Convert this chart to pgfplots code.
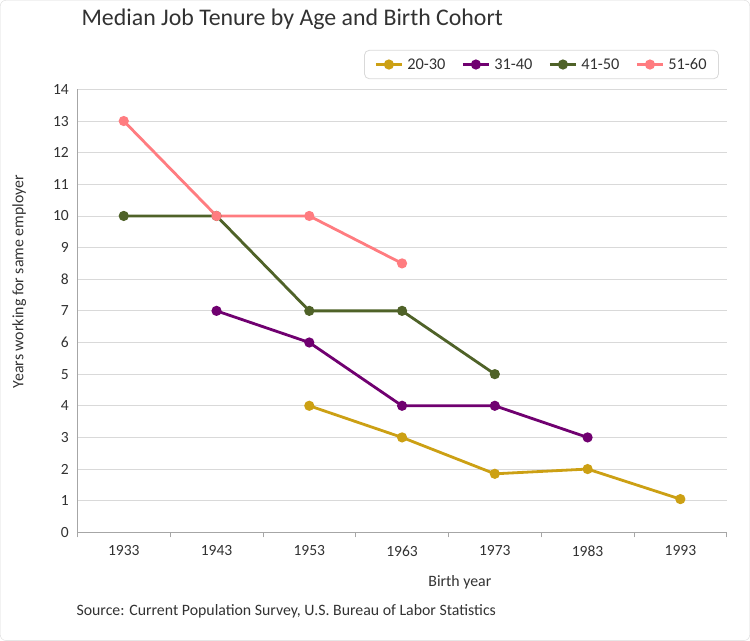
\documentclass[border=0pt]{standalone}
\usepackage{pgfplots}
\pgfplotsset{compat=1.18}
\usepackage{fontspec}
\setmainfont{Carlito}
\definecolor{cgold}{RGB}{204,160,20}
\definecolor{cpurple}{RGB}{112,0,112}
\definecolor{cgreen}{RGB}{79,98,40}
\definecolor{cpink}{RGB}{255,124,128}
\definecolor{gridc}{RGB}{217,217,217}
\definecolor{axc}{RGB}{166,166,166}
\definecolor{txt}{RGB}{50,50,50}

\begin{document}
\begin{tikzpicture}[x=1pt,y=1pt]
  \draw[gray!30, rounded corners=6pt] (1,1) rectangle (749,640);
  \node[anchor=west, inner sep=0pt, text=txt, font=\fontsize{23.8}{28}\selectfont] at (82,621) {Median Job Tenure by Age and Birth Cohort};
  \node[anchor=west, inner sep=0pt, text=txt, font=\fontsize{15.8}{19}\selectfont] at (77,30) {Source: Current Population Survey, U.S. Bureau of Labor Statistics};
  \begin{axis}[
      at={(78pt,109pt)}, anchor=south west,
      scale only axis, width=648pt, height=442pt,
      xmin=-0.5, xmax=6.5, ymin=0, ymax=14,
      xtick={0,...,6},
      xticklabels={1933,1943,1953,1963,1973,1983,1993},
      minor xtick={-0.5,0.5,...,6.5},
      ytick={0,...,14},
      axis lines*=left,
      axis line style={axc, line width=0.8pt},
      major tick length=0pt,
      minor tick length=5pt,
      tick align=outside,
      minor tick style={axc, line width=0.8pt},
      ymajorgrids, grid style={gridc, line width=0.8pt},
      ticklabel style={text=txt, font=\fontsize{15.5}{18}\selectfont},
      xticklabel style={yshift=-10pt},
      yticklabel style={xshift=-5pt},
      /pgf/number format/assume math mode=true,
      xlabel={Birth year},
      xlabel style={at={(axis description cs:0.589,-0.113)}, anchor=center, text=txt, font=\fontsize{15.8}{19}\selectfont},
      ylabel={Years working for same employer},
      ylabel style={at={(axis description cs:-0.0895,0.566)}, anchor=center, text=txt, font=\fontsize{15.8}{19}\selectfont},
      legend columns=4,
      legend style={at={(axis description cs:0.988,1.023)}, anchor=south east,
        draw=gridc, line width=0.8pt, rounded corners=5pt, font=\fontsize{16.3}{19}\selectfont, text=txt,
        inner xsep=10pt, inner ysep=6pt,
        /tikz/every odd column/.append style={column sep=2pt},
        /tikz/every even column/.append style={column sep=14pt}},
      legend image code/.code={\draw[mark repeat=2, mark phase=2, #1] plot coordinates {(0pt,0pt) (13pt,0pt) (26pt,0pt)};},
      every axis plot/.append style={line width=2.8pt, mark=*, mark size=3.6pt},
    ]
    \addplot[cgold, mark options={fill=cgold}] coordinates {(2,4) (3,3) (4,1.85) (5,2) (6,1.05)};
    \addplot[cpurple, mark options={fill=cpurple}] coordinates {(1,7) (2,6) (3,4) (4,4) (5,3)};
    \addplot[cgreen, mark options={fill=cgreen}] coordinates {(0,10) (1,10) (2,7) (3,7) (4,5)};
    \addplot[cpink, mark options={fill=cpink}] coordinates {(0,13) (1,10) (2,10) (3,8.5)};
    \legend{20-30,31-40,41-50,51-60}
  \end{axis}
\end{tikzpicture}
\end{document}
